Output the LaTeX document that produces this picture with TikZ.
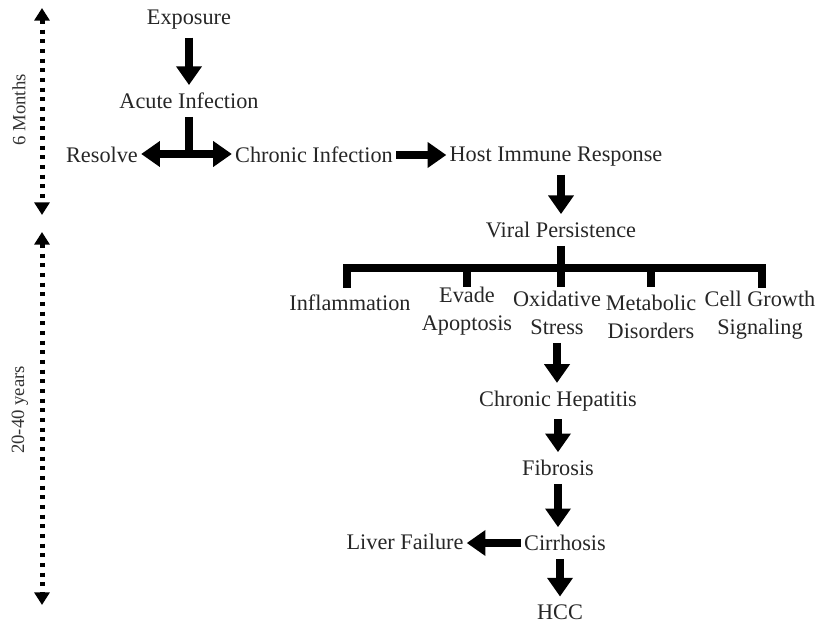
\documentclass[tikz,border=0pt]{standalone}
\usepackage{fontspec}
\setmainfont{Liberation Serif}
\usetikzlibrary{arrows.meta}

\tikzset{
  stage/.style={font=\fontsize{19}{24}\selectfont, text=black!85, inner sep=0pt, outer xsep=0.1cm, outer ysep=0.24cm, align=center},
  fatline/.style={line width=0.22cm},
  fatarrow/.style={fatline, -{Triangle[length=0.56cm,width=0.74cm]}},
  span/.style={line width=0.15cm, dash pattern=on 0.12cm off 0.17cm, {Triangle[length=0.38cm,width=0.45cm]}-{Triangle[length=0.38cm,width=0.45cm]}},
  spanlabel/.style={font=\fontsize{16}{18}\selectfont, text=black!80, rotate=90}
}

\begin{document}
\begin{tikzpicture}[x=0.03cm, y=-0.03cm]
  \useasboundingbox (0,0) rectangle (818,627);

  % time spans
  \coordinate (m0) at (42,8);
  \coordinate (m1) at (42,215);
  \coordinate (y0) at (42,232);
  \coordinate (y1) at (42,605);
  \draw[span] (m0) -- (m1);
  \draw[span] (y0) -- (y1);
  \node[spanlabel] (months) at (19,110) {6 Months};
  \node[spanlabel] (years) at (20,410) {20-40 years};

  % acute phase
  \node[stage] (expo) at (189,20) {Exposure};
  \node[stage] (acute) at (189,101) {Acute Infection};
  \coordinate (tee) at (189,154);
  \node[stage] (resolve) at (102,155) {Resolve};
  \node[stage] (chronic) at (314,155) {Chronic Infection};
  \node[stage] (host) at (556,157) {Host Immune Response};
  \draw[fatarrow] (expo) -- (acute);
  \draw[fatline] (acute) -- (tee);
  \draw[fatarrow] (tee) -- (tee -| resolve.east);
  \draw[fatarrow] (tee) -- (tee -| chronic.west);
  \draw[fatarrow] (chronic) -- (chronic -| host.west);

  % persistence
  \node[stage] (viral) at (561,230) {Viral Persistence};
  \draw[fatarrow] (viral |- host.south) -- (viral);

  % branches
  \coordinate (barL) at (347,268);
  \coordinate (barR) at (762,268);
  \node[stage] (infl) at (350,303) {Inflammation};
  \node[stage] (evade) at (467,311) {Evade\\Apoptosis};
  \node[stage] (oxid) at (557,313) {Oxidative\\Stress};
  \node[stage] (metab) at (651,317) {Metabolic\\Disorders};
  \node[stage] (cell) at (760,315) {Cell Growth\\Signaling};
  \draw[fatline] (barL) ++(0,20) -- (barL) -- (barR) -- ++(0,20);
  \draw[fatline] (viral) -- (viral |- barL) -- ++(0,19);
  \foreach \b in {evade, metab}
    \draw[fatline] (barL -| \b) -- ++(0,19);

  % chronic course
  \node[stage] (hep) at (558,401) {Chronic Hepatitis};
  \node[stage] (fib) at (558,468) {Fibrosis};
  \node[stage] (cirr) at (565,543) {Cirrhosis};
  \node[stage] (liver) at (405,542) {Liver Failure};
  \node[stage] (hcc) at (560,612) {HCC};
  \draw[fatarrow] (oxid) -- (oxid |- hep.north);
  \draw[fatarrow] (hep) -- (hep |- fib.north);
  \draw[fatarrow] (fib) -- (fib |- cirr.north);
  \draw[fatarrow] (cirr) -- (cirr -| liver.east);
  \draw[fatarrow] (hcc |- cirr.south) -- (hcc);
\end{tikzpicture}
\end{document}
